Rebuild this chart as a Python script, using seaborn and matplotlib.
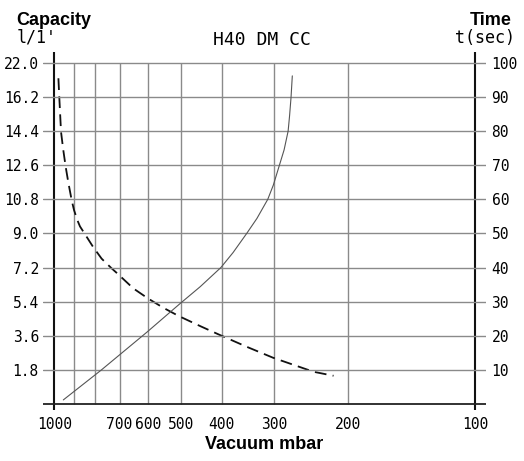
import numpy as np
import pandas as pd
import matplotlib
matplotlib.use("Agg")
import matplotlib.pyplot as plt
import seaborn as sns

# ---- data ----
# Capacity curve (dashed, left axis, l/min)
cap_mbar = [978, 973, 964, 953, 940, 926, 909, 898, 882, 869, 845, 810, 772,
            731, 711, 649, 599, 551, 507, 450, 404, 349, 302, 242, 217]
cap_lmin = [17.19, 16.14, 14.36, 13.46, 12.53, 11.67, 10.73, 10.24, 9.71,
            9.37, 8.95, 8.31, 7.67, 7.16, 6.92, 6.10, 5.57, 5.08, 4.65, 4.11,
            3.64, 3.02, 2.44, 1.70, 1.49]

# Evacuation time curve (solid, right axis, seconds)
time_mbar = [952, 774.5, 602, 503, 450, 402, 376, 349, 330, 311, 301.6, 291.8,
             284.4, 278.2, 276.0, 273.8, 271.9]
time_sec = [1.2, 9.9, 21.1, 29.4, 34.4, 40, 44.4, 50, 54.4, 60, 64.2, 70,
            74.5, 80, 84.5, 89.9, 96.2]

x_ticks = [1000, 700, 600, 500, 400, 300, 200, 100]
x_ticklabels = ["1000", "700", "600", "500", "400", "300", "200", "100"]
x_grid = [900, 800, 700, 600, 500, 400, 300, 200]

cap_ticks = [1.8, 3.6, 5.4, 7.2, 9.0, 10.8, 12.6, 14.4, 16.2, 18.0]
cap_ticklabels = ["1.8", "3.6", "5.4", "7.2", "9.0", "10.8", "12.6", "14.4", "16.2", "22.0"]
time_ticks = [10, 20, 30, 40, 50, 60, 70, 80, 90, 100]
time_ticklabels = ["10", "20", "30", "40", "50", "60", "70", "80", "90", "100"]

cap_df = pd.DataFrame({"mbar": cap_mbar, "cap": cap_lmin})
time_df = pd.DataFrame({"mbar": time_mbar, "t": time_sec})

sns.set_theme(style="white")
plt.rcParams["font.family"] = ["DejaVu Sans"]
for k in ["text.color", "axes.labelcolor", "xtick.color", "ytick.color"]:
    plt.rcParams[k] = "black"

W, H = 524, 461
fig = plt.figure(figsize=(W / 100, H / 100), dpi=100)
L, R, T, B = 43, 486, 52, 410
ax = fig.add_axes([L / W, 1 - B / H, (R - L) / W, (B - T) / H])

t_lo, t_hi = -1.76, 103.2
ax.set_ylim(t_lo * 0.18, t_hi * 0.18)
ax.set_xscale("log")
ax.set_xlim(1064, 94.2)
for s in ax.spines.values():
    s.set_visible(False)

ax2 = ax.twinx()
ax2.set_ylim(t_lo, t_hi)
for s in ax2.spines.values():
    s.set_visible(False)

mono = "DejaVu Sans Mono"
grid_c = "#8a8a8a"
for v in time_ticks:
    ax2.axhline(v, color=grid_c, lw=1.0, zorder=1)
ax2.axhline(0, color="#222222", lw=1.3, zorder=2)
ax.vlines(x_grid, 0, 18.0, color=grid_c, lw=1.0, zorder=1)
ax.axvline(1000, color="#111111", lw=1.5, zorder=3)
ax.axvline(100, color="#111111", lw=1.5, zorder=3)

sns.lineplot(data=cap_df, x="mbar", y="cap", ax=ax, color="#111111",
             lw=1.3, zorder=4, sort=False)
ax.lines[-1].set_dashes((6.5, 3.5))
sns.lineplot(data=time_df, x="mbar", y="t", ax=ax2, color="#555555",
             lw=0.8, zorder=4)

ax.set_yticks(cap_ticks)
ax.set_yticklabels(cap_ticklabels, fontfamily=mono, fontsize=10.5)
ax.tick_params(axis="y", length=0, pad=3)
ax2.set_yticks(time_ticks)
ax2.set_yticklabels(time_ticklabels, fontfamily=mono, fontsize=10.5)
ax2.tick_params(axis="y", length=0, pad=4)
ax.set_xticks(x_ticks)
ax.set_xticklabels(x_ticklabels, fontfamily=mono, fontsize=10.5)
ax.xaxis.set_minor_locator(matplotlib.ticker.NullLocator())
ax.tick_params(axis="x", length=0, pad=5)
ax.set_xlabel("Vacuum mbar", fontsize=13, fontweight="bold", labelpad=3,
              fontfamily="Liberation Sans")
ax.set_ylabel("")
ax2.set_ylabel("")

fig.text(16 / W, 1 - 25 / H, "Capacity", fontsize=13, fontweight="bold",
         fontfamily="Liberation Sans", ha="left", va="baseline")
fig.text(17 / W, 1 - 43 / H, "l/1'", fontsize=12, fontfamily=mono,
         ha="left", va="baseline")
fig.text(512 / W, 1 - 25 / H, "Time", fontsize=13, fontweight="bold",
         fontfamily="Liberation Sans", ha="right", va="baseline")
fig.text(515 / W, 1 - 43 / H, "t(sec)", fontsize=12, fontfamily=mono,
         ha="right", va="baseline")
fig.text(262 / W, 1 - 45 / H, "H40 DM CC", fontsize=13, fontfamily=mono,
         ha="center", va="baseline")

fig.savefig("out.png", dpi=100)
